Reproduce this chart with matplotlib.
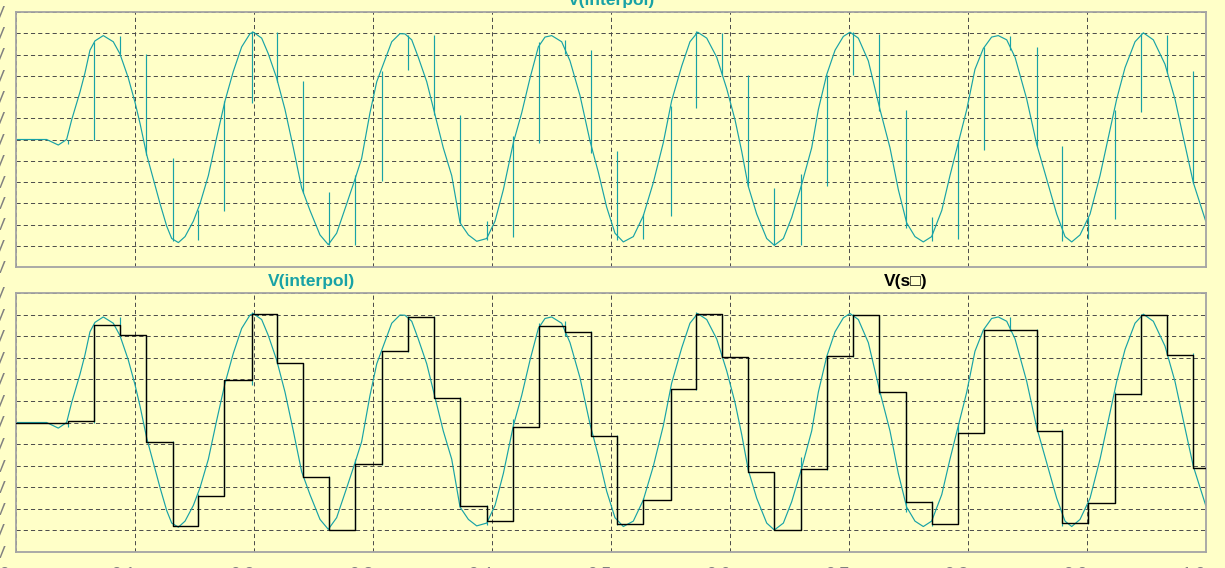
import matplotlib
matplotlib.use('Agg')
import matplotlib.pyplot as plt
from matplotlib.ticker import FixedLocator, FuncFormatter

# interpolated signal, V(interpol) (time in ms, value in 100 mV)
interp_t = [0.000, 0.026, 0.0358, 0.0428, 0.0470, 0.0540, 0.0582, 0.0624, 0.0666, 0.0736,
            0.0820, 0.0876, 0.0946, 0.1003, 0.1045, 0.1101, 0.1157, 0.1213, 0.1269, 0.1311,
            0.1367, 0.1423, 0.1493, 0.1549, 0.1619, 0.1689, 0.1759, 0.1829, 0.1899, 0.1969,
            0.1997, 0.2067, 0.2123, 0.2193, 0.2263, 0.2333, 0.2403, 0.2473, 0.2557, 0.2627,
            0.2697, 0.2782, 0.2851, 0.2907, 0.2977, 0.3034, 0.3089, 0.3160, 0.3229, 0.3271,
            0.3328, 0.3383, 0.3454, 0.3524, 0.3593, 0.3664, 0.3734, 0.3804, 0.3874, 0.3958,
            0.4028, 0.4098, 0.4182, 0.4252, 0.4322, 0.4392, 0.4448, 0.4504, 0.4588, 0.4658,
            0.4742, 0.4826, 0.4896, 0.4966, 0.5036, 0.5106, 0.5190, 0.5274, 0.5358, 0.5442,
            0.5512, 0.5597, 0.5666, 0.5731, 0.5807, 0.5891, 0.5975, 0.6045, 0.6101, 0.6156,
            0.6227, 0.6311, 0.6375, 0.6451, 0.6521, 0.6605, 0.6689, 0.6745, 0.6815, 0.6885,
            0.6955, 0.7011, 0.7081, 0.7165, 0.7263, 0.7347, 0.7417, 0.7487, 0.7557, 0.7627,
            0.7697, 0.7782, 0.7851, 0.7921, 0.7992, 0.8061, 0.8131, 0.8201, 0.8257, 0.8328,
            0.8398, 0.8496, 0.8580, 0.8664, 0.8748, 0.8818, 0.8874, 0.8944, 0.9028, 0.9112,
            0.9182, 0.9252, 0.9322, 0.9406, 0.9476, 0.9560, 0.9658, 0.9742, 0.9812, 0.9896,
            1.0000]
interp_v = [0, 0, -0.26, 0, 0.92, 2.23, 3.13, 4.20, 4.64, 4.89,
            4.60, 4.03, 2.90, 1.74, 0.75, -0.72, -1.87, -3.02, -4.08, -4.66,
            -4.85, -4.57, -3.84, -3.02, -1.70, 0.10, 1.82, 3.21, 4.36, 4.98,
            5.05, 4.77, 4.03, 2.89, 1.41, -0.39, -2.28, -3.34, -4.49, -4.95,
            -4.41, -3.02, -1.87, -0.89, 1.25, 2.72, 3.54, 4.60, 4.98, 4.97,
            4.69, 3.87, 2.72, 1.16, -0.39, -1.70, -3.92, -4.49, -4.79, -4.66,
            -3.84, -2.36, -0.15, 1.25, 2.89, 4.36, 4.82, 4.89, 4.60, 3.70,
            2.07, -0.07, -1.54, -3.18, -4.41, -4.82, -4.57, -3.59, -2.03, -0.15,
            1.82, 3.46, 4.60, 5.05, 4.77, 3.87, 2.39, 0.92, -0.56, -2.20,
            -3.51, -4.66, -4.98, -4.66, -3.67, -2.11, -0.39, 1.41, 3.05, 4.20,
            4.85, 5.05, 4.77, 3.70, 1.41, -0.39, -2.36, -3.92, -4.57, -4.82,
            -4.57, -3.34, -1.70, -0.15, 1.41, 3.30, 4.28, 4.82, 4.89, 4.69,
            3.87, 1.90, -0.23, -1.87, -3.51, -4.57, -4.82, -4.49, -3.51, -1.70,
            0.10, 1.90, 3.38, 4.60, 5.02, 4.69, 3.54, 1.90, 0.10, -2.03,
            -3.84]

# sample instants, held value V(s) after each one, and the glitch on V(interpol) there
sample_t = [0.0437, 0.0661, 0.0876, 0.1095, 0.1319, 0.1535, 0.1753, 0.1983, 0.2193, 0.2417,
            0.2636, 0.2851, 0.3081, 0.3299, 0.3518, 0.3734, 0.3958, 0.4176, 0.4400, 0.4616,
            0.4834, 0.5053, 0.5274, 0.5504, 0.5717, 0.5933, 0.6157, 0.6375, 0.6596, 0.6821,
            0.7039, 0.7257, 0.7479, 0.7697, 0.7916, 0.8140, 0.8355, 0.8579, 0.8795, 0.9014,
            0.9238, 0.9456, 0.9678, 0.9896]
held_v = [0.05, 4.53, 4.04, -0.91, -4.81, -3.39, 1.96, 5.02, 2.74, -2.53,
          -5.00, -1.92, 3.31, 4.90, 1.12, -3.88, -4.56, -0.23, 4.45, 4.20,
          -0.62, -4.72, -3.59, 1.56, 5.02, 3.02, -2.29, -5.00, -2.16, 3.10,
          4.97, 1.40, -3.70, -4.68, -0.47, 4.29, 4.29, -0.39, -4.64, -3.75,
          1.31, 4.97, 3.15, -2.13]
spike_a = [0, 4.57, 4.89, 4.03, -0.85, -3.31, 1.82, 5.10, 5.05, 2.75,
           -2.49, -1.67, 3.21, 4.93, 4.93, 1.16, -3.84, 0.18, 4.61, 4.69,
           4.23, -0.56, -3.51, 1.57, 5.10, 5.02, 3.05, -2.28, -1.62, 3.05,
           5.05, 4.98, 1.41, -3.64, -0.07, 4.33, 4.89, 4.33, -0.31, -3.67,
           1.41, 5.02, 4.93, 3.21]
spike_b = [-0.23, 0, 4.03, -0.72, -4.79, -4.74, -3.38, 1.74, 2.72, -2.52,
           -4.98, -4.98, -1.95, 3.25, 1.16, -3.92, -4.74, -4.57, -0.15, 4.03,
           -0.64, -4.74, -4.66, -3.59, 1.49, 3.05, -2.20, -4.98, -4.98, -2.20,
           3.05, 1.33, -4.16, -4.79, -4.66, -0.48, 4.23, -0.31, -4.79, -4.69,
           -3.75, 1.28, 3.13, -2.03]

x_ticks = [0.0, 0.1, 0.2, 0.3, 0.4, 0.5, 0.6, 0.7, 0.8, 0.9, 1.0]
y_ticks = [-6, -5, -4, -3, -2, -1, 0, 1, 2, 3, 4, 5, 6]

BG = '#FFFFC8'
TEAL = '#18A2A6'
W, H = 1225, 568

plt.rcParams['font.family'] = ['Liberation Sans', 'DejaVu Sans']
plt.rcParams['lines.scale_dashes'] = False

fig = plt.figure(figsize=(W / 100, H / 100), dpi=100, facecolor=BG)
ax_top = fig.add_axes([15.7 / W, 1 - 267 / H, 1190 / W, 255 / H])
ax_bot = fig.add_axes([15.7 / W, 1 - 552 / H, 1190 / W, 259 / H])

for ax in (ax_top, ax_bot):
    ax.set_facecolor(BG)
    ax.set_xlim(0, 1)
    ax.set_ylim(-6, 6)
    ax.xaxis.set_major_locator(FixedLocator(x_ticks))
    ax.yaxis.set_major_locator(FixedLocator(y_ticks))
    ax.grid(True, color='#4a4a4a', linewidth=0.7, linestyle=(0, (3, 2.2)))
    ax.set_axisbelow(True)
    for s in ax.spines.values():
        s.set_color('#a4a4a4')
        s.set_linewidth(1.3)
    ax.tick_params(length=0, labelsize=12.5, labelcolor='#808080')
    ax.tick_params(axis='y', pad=7.3)
    ax.tick_params(axis='x', pad=10.8)
    ax.yaxis.set_major_formatter(FuncFormatter(lambda v, p: f'{v * 100:.0f}mV'))
    ax.xaxis.set_major_formatter(FuncFormatter(lambda v, p: '0ms' if v == 0 else f'{v:.1f}ms'))

    ax.plot(interp_t, interp_v, color=TEAL, linewidth=0.85, zorder=2)
    ax.vlines(sample_t, spike_a, spike_b, color=TEAL, linewidth=0.85, zorder=2)

ax_top.tick_params(labelbottom=False)

# sample & hold output on top of the interpolated trace
ax_bot.step([0.0] + sample_t + [1.0], [0.0] + held_v + [held_v[-1]],
            where='post', color='black', linewidth=1.0, zorder=3)

fig.text(611 / W, 1.0, 'V(interpol)', color=TEAL, fontsize=12.5, fontweight='bold',
         ha='center', va='center')
fig.text(312 / W, 1 - 281 / H, 'V(interpol)', color=TEAL, fontsize=12.5, fontweight='bold',
         ha='center', va='center')
fig.text(906 / W, 1 - 281 / H, 'V(s\u25a1)', color='black', fontsize=12.5, fontweight='bold',
         ha='center', va='center', family=['Liberation Sans', 'DejaVu Sans'])

fig.savefig('out.png', dpi=100, facecolor=BG)
